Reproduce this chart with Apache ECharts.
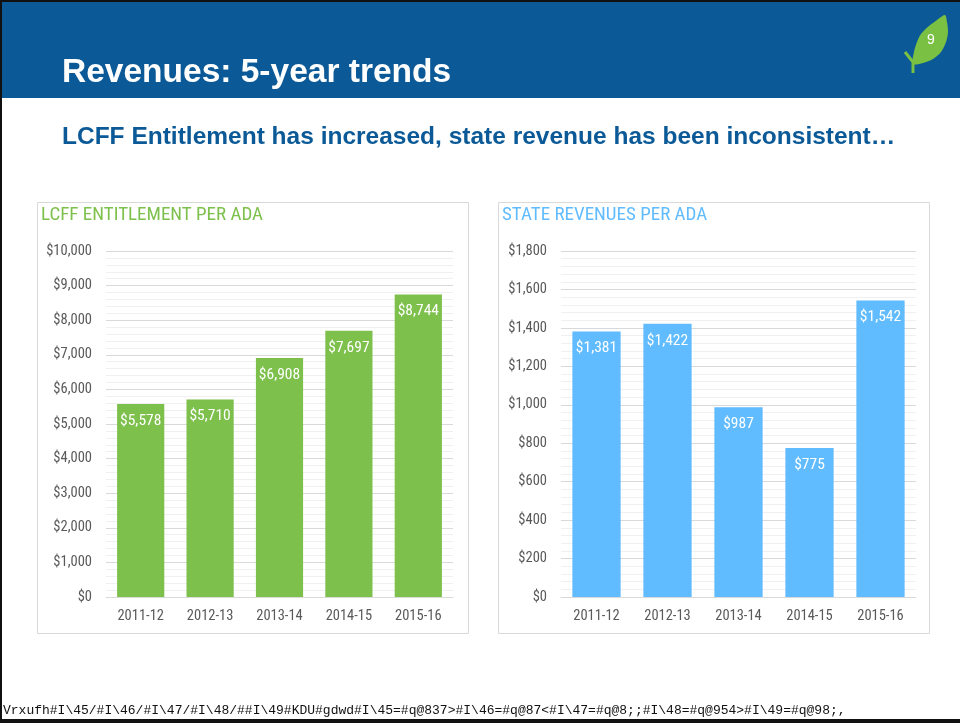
<!DOCTYPE html>
<html><head><meta charset="utf-8">
<script src="https://cdn.jsdelivr.net/npm/echarts@6/dist/echarts.min.js"></script>
<style>html,body{margin:0;padding:0;background:#fff}#c{width:960px;height:723px}</style>
</head><body><div id="c"></div>
<script>
const years = ['2011-12','2012-13','2013-14','2014-15','2015-16'];
const lcffValues = [5578, 5710, 6908, 7697, 8744];
const stateValues = [1381, 1422, 987, 775, 1542];
const slideTitle = 'Revenues: 5-year trends';
const slideSubtitle = 'LCFF Entitlement has increased, state revenue has been inconsistent…';
const leftTitle = 'LCFF ENTITLEMENT PER ADA';
const rightTitle = 'STATE REVENUES PER ADA';
const footerText = 'Vrxufh#I\\45/#I\\46/#I\\47/#I\\48/##I\\49#KDU#gdwd#I\\45=#q@837>#I\\46=#q@87<#I\\47=#q@8;;#I\\48=#q@954>#I\\49=#q@98;,';
const pageNumber = '9';

const green = '#7DC04B', blue = '#61BCFF', navy = '#0B5A97';
const cond = '"Liberation Sans Narrow", "Roboto Condensed", Roboto, sans-serif';
const money = v => '$' + v.toLocaleString('en-US');

const chart = echarts.init(document.getElementById('c'));

function yAxis(idx, max, interval) {
  return {
    gridIndex: idx, type: 'value', min: 0, max: max, interval: interval,
    axisLine: {show: false}, axisTick: {show: false},
    axisLabel: {color: '#595959', fontSize: 14.5, fontFamily: cond, margin: 14, formatter: money},
    splitLine: {lineStyle: {color: '#D9D9D9', width: 1}},
    minorTick: {show: false, splitNumber: 5},
    minorSplitLine: {show: true, lineStyle: {color: '#F0F0F0', width: 1}}
  };
}
function xAxis(idx) {
  return {
    gridIndex: idx, type: 'category', data: years,
    axisLine: {lineStyle: {color: '#D9D9D9'}}, axisTick: {show: false},
    axisLabel: {color: '#595959', fontSize: 14.5, fontFamily: cond, margin: 12}
  };
}
function bars(idx, data, color) {
  return {
    type: 'bar', xAxisIndex: idx, yAxisIndex: idx, data: data, barCategoryGap: '32%',
    itemStyle: {color: color}, silent: true,
    label: {show: true, position: 'insideTop', distance: 9, color: '#fff', fontSize: 15.5, fontFamily: cond, formatter: p => money(p.value)}
  };
}

chart.setOption({
  animation: false,
  grid: [
    {left: 106, top: 251, width: 347, height: 346, containLabel: false},
    {left: 561, top: 251, width: 355, height: 346, containLabel: false}
  ],
  xAxis: [xAxis(0), xAxis(1)],
  yAxis: [yAxis(0, 10000, 1000), yAxis(1, 1800, 200)],
  series: [bars(0, lcffValues, green), bars(1, stateValues, blue)],
  graphic: [
    {type: 'rect', z: -10, silent: true, shape: {x: 0, y: 0, width: 960, height: 723}, style: {fill: '#fff'}},
    {type: 'rect', z: -5, silent: true, shape: {x: 0, y: 2, width: 960, height: 96}, style: {fill: navy}},
    {type: 'rect', z: 10, silent: true, shape: {x: 0, y: 0, width: 960, height: 2}, style: {fill: '#111'}},
    {type: 'rect', z: 10, silent: true, shape: {x: 0, y: 0, width: 2, height: 723}, style: {fill: '#111'}},
    {type: 'rect', z: 10, silent: true, shape: {x: 0, y: 719, width: 960, height: 4}, style: {fill: '#111'}},
    {type: 'text', x: 62, y: 73, style: {text: slideTitle, fill: '#fff', font: 'bold 33.5px "Liberation Sans", Arial, sans-serif', textVerticalAlign: 'middle'}},
    {type: 'text', x: 62, y: 137, style: {text: slideSubtitle, fill: navy, font: 'bold 24.5px "Liberation Sans", Arial, sans-serif', textVerticalAlign: 'middle'}},
    {type: 'polygon', z: 5, silent: true, shape: {points: [[913,64],[914,52],[917,42],[921,34],[929,26],[937,20],[945,15],[947,22],[948,32],[946,42],[941,52],[933,59],[923,63]], smooth: 0.3}, style: {fill: '#7AC143'}},
    {type: 'polyline', z: 5, silent: true, shape: {points: [[905,52],[909,57],[913,62],[913,67],[913,73]]}, style: {stroke: '#7AC143', lineWidth: 3, fill: null}},
    {type: 'text', z: 6, x: 931, y: 40, style: {text: pageNumber, fill: '#fff', font: '14px "Liberation Sans", Arial, sans-serif', textAlign: 'center', textVerticalAlign: 'middle'}},
    {type: 'rect', z: -4, silent: true, shape: {x: 37.5, y: 202.5, width: 431, height: 431}, style: {fill: '#fff', stroke: '#D9D9D9', lineWidth: 1}},
    {type: 'rect', z: -4, silent: true, shape: {x: 498.5, y: 202.5, width: 431, height: 431}, style: {fill: '#fff', stroke: '#D9D9D9', lineWidth: 1}},
    {type: 'text', x: 41, y: 215, style: {text: leftTitle, fill: green, font: '19px ' + cond, textVerticalAlign: 'middle'}},
    {type: 'text', x: 502, y: 215, style: {text: rightTitle, fill: blue, font: '19px ' + cond, textVerticalAlign: 'middle'}},
    {type: 'text', x: 3, y: 711, style: {text: footerText, fill: '#111', font: '13px "Liberation Mono", "Courier New", monospace', textVerticalAlign: 'middle'}}
  ]
});
</script></body></html>
